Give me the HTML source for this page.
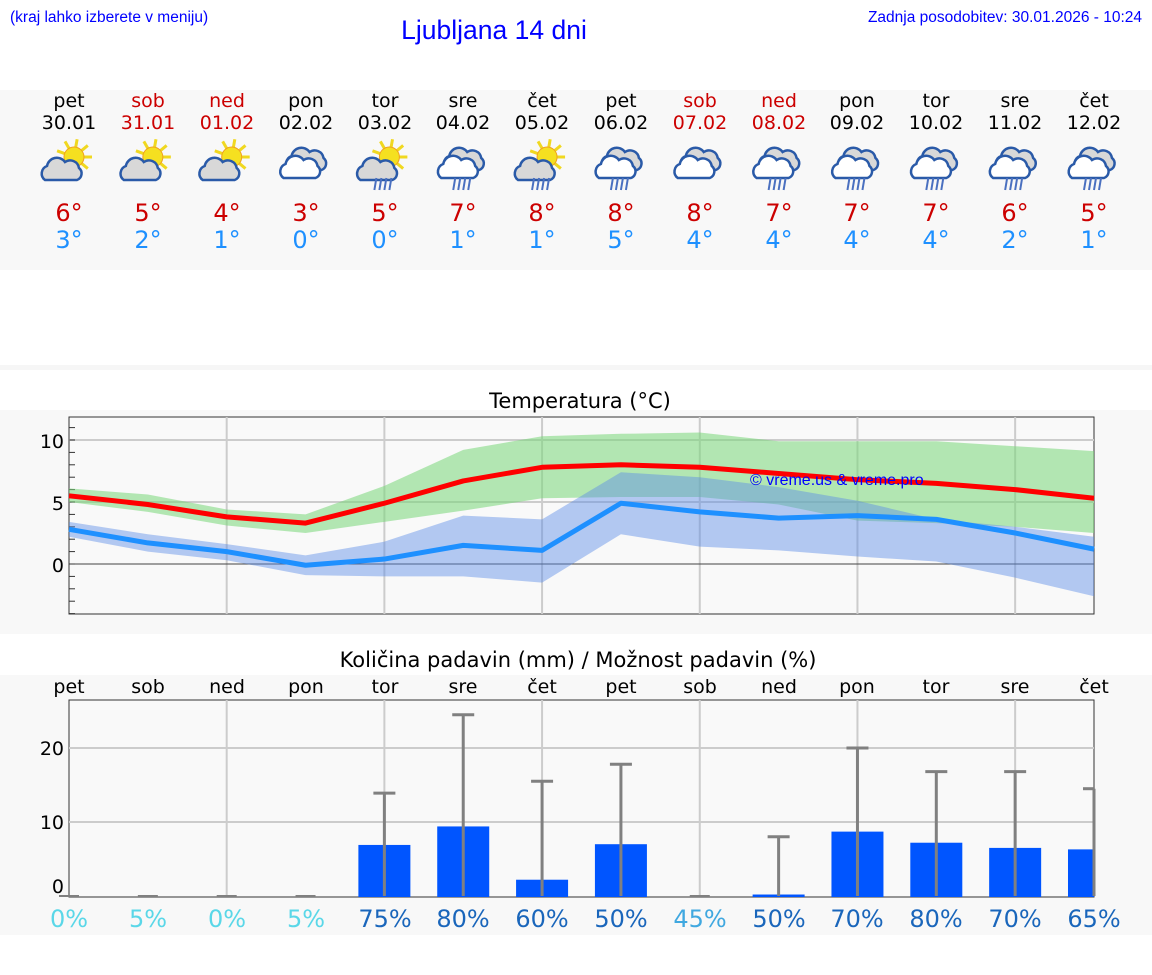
<!DOCTYPE html>
<html><head><meta charset="utf-8"><style>
body{margin:0;background:#fff;width:1152px;height:975px;overflow:hidden}
svg{display:block;font-family:"DejaVu Sans","Liberation Sans",sans-serif}
</style></head><body>
<svg id="s" width="1152" height="975" xmlns="http://www.w3.org/2000/svg">
<rect x="0" y="90" width="1152" height="180" fill="#f8f8f8"/>
<rect x="0" y="365" width="1152" height="5" fill="#f6f6f6"/>
<rect x="0" y="410" width="1152" height="224" fill="#f8f8f8"/>
<rect x="0" y="675" width="1152" height="260" fill="#f8f8f8"/>
<text x="10" y="22" font-size="15.5" fill="#0000ff" font-family="Liberation Sans,sans-serif">(kraj lahko izberete v meniju)</text>
<text x="1142" y="22" font-size="15.5" fill="#0000ff" text-anchor="end" font-family="Liberation Sans,sans-serif">Zadnja posodobitev: 30.01.2026 - 10:24</text>
<text x="494" y="39" font-size="26.5" fill="#0000ff" text-anchor="middle" font-family="Liberation Sans,sans-serif">Ljubljana 14 dni</text>
<g font-size="19" text-anchor="middle">
<text x="69" y="107">pet</text><text x="148" y="107" fill="#cc0000">sob</text><text x="227" y="107" fill="#cc0000">ned</text><text x="306" y="107">pon</text><text x="385" y="107">tor</text><text x="463" y="107">sre</text><text x="542" y="107">čet</text><text x="621" y="107">pet</text><text x="700" y="107" fill="#cc0000">sob</text><text x="779" y="107" fill="#cc0000">ned</text><text x="857" y="107">pon</text><text x="936" y="107">tor</text><text x="1015" y="107">sre</text><text x="1094" y="107">čet</text>
<text x="69" y="129">30.01</text><text x="148" y="129" fill="#cc0000">31.01</text><text x="227" y="129" fill="#cc0000">01.02</text><text x="306" y="129">02.02</text><text x="385" y="129">03.02</text><text x="463" y="129">04.02</text><text x="542" y="129">05.02</text><text x="621" y="129">06.02</text><text x="700" y="129" fill="#cc0000">07.02</text><text x="779" y="129" fill="#cc0000">08.02</text><text x="857" y="129">09.02</text><text x="936" y="129">10.02</text><text x="1015" y="129">11.02</text><text x="1094" y="129">12.02</text>
</g>
<g font-size="24" text-anchor="middle" fill="#cc0000">
<text x="69" y="221">6°</text><text x="148" y="221">5°</text><text x="227" y="221">4°</text><text x="306" y="221">3°</text><text x="385" y="221">5°</text><text x="463" y="221">7°</text><text x="542" y="221">8°</text><text x="621" y="221">8°</text><text x="700" y="221">8°</text><text x="779" y="221">7°</text><text x="857" y="221">7°</text><text x="936" y="221">7°</text><text x="1015" y="221">6°</text><text x="1094" y="221">5°</text>
</g>
<g font-size="24" text-anchor="middle" fill="#1e90ff">
<text x="69" y="248">3°</text><text x="148" y="248">2°</text><text x="227" y="248">1°</text><text x="306" y="248">0°</text><text x="385" y="248">0°</text><text x="463" y="248">1°</text><text x="542" y="248">1°</text><text x="621" y="248">5°</text><text x="700" y="248">4°</text><text x="779" y="248">4°</text><text x="857" y="248">4°</text><text x="936" y="248">4°</text><text x="1015" y="248">2°</text><text x="1094" y="248">1°</text>
</g>
<g id="icons"></g>
<text x="580" y="408" font-size="21" text-anchor="middle">Temperatura (°C)</text>
<rect x="69" y="417" width="1025" height="197" fill="#f9f9f9" stroke="#333" stroke-width="1"/>
<g id="tg"></g>
<text x="750" y="485" font-size="16" fill="#0000ff" font-family="Liberation Sans,sans-serif">© vreme.us &amp; vreme.pro</text>
<g font-size="19" text-anchor="end"><text x="64" y="448">10</text><text x="64" y="510">5</text><text x="64" y="572">0</text></g>
<text x="578" y="667" font-size="21" text-anchor="middle">Količina padavin (mm) / Možnost padavin (%)</text>
<g font-size="19" text-anchor="middle">
<text x="69" y="693">pet</text><text x="148" y="693">sob</text><text x="227" y="693">ned</text><text x="306" y="693">pon</text><text x="385" y="693">tor</text><text x="463" y="693">sre</text><text x="542" y="693">čet</text><text x="621" y="693">pet</text><text x="700" y="693">sob</text><text x="779" y="693">ned</text><text x="857" y="693">pon</text><text x="936" y="693">tor</text><text x="1015" y="693">sre</text><text x="1094" y="693">čet</text>
</g>
<rect x="69" y="700" width="1025" height="197" fill="#f9f9f9" stroke="#333" stroke-width="1"/>
<g id="pg"></g>
<g font-size="19" text-anchor="end"><text x="64" y="755">20</text><text x="64" y="829">10</text><text x="64" y="893">0</text></g>
<g font-size="24" text-anchor="middle">
<text x="69" y="927" fill="#5ad7e8">0%</text><text x="148" y="927" fill="#5ad7e8">5%</text><text x="227" y="927" fill="#5ad7e8">0%</text><text x="306" y="927" fill="#5ad7e8">5%</text><text x="385" y="927" fill="#1a66bb">75%</text><text x="463" y="927" fill="#1a66bb">80%</text><text x="542" y="927" fill="#1a66bb">60%</text><text x="621" y="927" fill="#1a66bb">50%</text><text x="700" y="927" fill="#40a8e0">45%</text><text x="779" y="927" fill="#1a66bb">50%</text><text x="857" y="927" fill="#1a66bb">70%</text><text x="936" y="927" fill="#1a66bb">80%</text><text x="1015" y="927" fill="#1a66bb">70%</text><text x="1094" y="927" fill="#1a66bb">65%</text>
</g>
</svg>
<script>
var NS="http://www.w3.org/2000/svg";
function X(i){return 69+i*78.846}
function el(p,t,a){var e=document.createElementNS(NS,t);for(var k in a)e.setAttribute(k,a[k]);p.appendChild(e);return e}
var tg=document.getElementById('tg');
function TY(v){return 564-v*12.4}
for(var i=2;i<14;i+=2)el(tg,'line',{x1:X(i),x2:X(i),y1:417,y2:614,stroke:'#ccc','stroke-width':2});
[440,502].forEach(function(y){el(tg,'line',{x1:69,x2:1094,y1:y,y2:y,stroke:'#ccc','stroke-width':2})});
el(tg,'line',{x1:69,x2:1094,y1:564,y2:564,stroke:'#444','stroke-width':1});
for(var v=-4;v<=11;v++)el(tg,'line',{x1:69,x2:75,y1:TY(v),y2:TY(v),stroke:'#333','stroke-width':1});
function band(up,lo,col){var pts=[];up.forEach(function(v,i){pts.push(X(i)+','+TY(v))});for(var i=lo.length-1;i>=0;i--)pts.push(X(i)+','+TY(lo[i]));el(tg,'polygon',{points:pts.join(' '),fill:col})}
function line(a,col){el(tg,'polyline',{points:a.map(function(v,i){return X(i)+','+TY(v)}).join(' '),fill:'none',stroke:col,'stroke-width':5,'stroke-linejoin':'round'})}
band([6.1,5.6,4.4,4.0,6.3,9.2,10.3,10.5,10.6,9.9,9.9,9.9,9.5,9.1],[5.0,4.2,3.1,2.5,3.4,4.3,5.3,5.4,5.4,4.8,3.5,3.3,3.0,2.5],'rgba(120,215,120,0.55)');
band([3.4,2.4,1.6,0.7,1.8,3.9,3.6,7.4,7.0,6.2,5.1,3.6,3.0,2.2],[2.2,1.0,0.3,-0.9,-1.0,-1.0,-1.5,2.4,1.4,1.1,0.6,0.2,-1.1,-2.6],'rgba(90,140,230,0.45)');
line([5.5,4.8,3.8,3.3,4.9,6.7,7.8,8.0,7.8,7.3,6.8,6.5,6.0,5.3],'#ff0000');
line([2.8,1.7,1.0,-0.1,0.4,1.5,1.1,4.9,4.2,3.7,3.9,3.6,2.5,1.2],'#1e90ff');
var pg=document.getElementById('pg');
function PY(v){return 896-v*7.4}
for(var i=2;i<14;i+=2)el(pg,'line',{x1:X(i),x2:X(i),y1:700,y2:897,stroke:'#ccc','stroke-width':2});
[748,822].forEach(function(y){el(pg,'line',{x1:69,x2:1094,y1:y,y2:y,stroke:'#ccc','stroke-width':2})});
var b=[0,0,0,0,6.9,9.4,2.2,7.0,0,0.2,8.7,7.2,6.5,6.3],e=[0,0,0,0,13.9,24.5,15.5,17.8,0,8,20,16.8,16.8,14.5];
for(var i=0;i<14;i++){var x=X(i);
 if(b[i]>0)el(pg,'rect',{x:x-26,y:PY(b[i]),width:i==13?26:52,height:896-PY(b[i])+1,fill:'#0055ff'});
 if(e[i]>0){el(pg,'line',{x1:x,x2:x,y1:PY(e[i]),y2:896,stroke:'#808080','stroke-width':3});el(pg,'line',{x1:x-11,x2:Math.min(x+11,1094),y1:PY(e[i]),y2:PY(e[i]),stroke:'#808080','stroke-width':3})}
 else el(pg,'line',{x1:x-10,x2:x+10,y1:896,y2:896,stroke:'#808080','stroke-width':2});
}
var ic=document.getElementById('icons');
var types=['sc','sc','sc','c','sr','cr','sr','cr','c','cr','cr','cr','cr','cr'];
function cloud(g,x,y,fill){el(g,'path',{d:'M'+(x-20)+','+(y+10)+' a8,8 0 0,1 2,-14 a10,10 0 0,1 18,-4 a9,9 0 0,1 14,6 a7,7 0 0,1 -2,12 z',fill:fill,stroke:'#2a5aa8','stroke-width':2.5})}
function sun(g,x,y){for(var a=0;a<360;a+=40){var r=a*Math.PI/180;el(g,'line',{x1:x+Math.cos(r)*10,y1:y+Math.sin(r)*10,x2:x+Math.cos(r)*18,y2:y+Math.sin(r)*18,stroke:'#f0d820','stroke-width':3})}el(g,'circle',{cx:x,cy:y,r:10,fill:'#f5e020',stroke:'#f0a020','stroke-width':1})}
types.forEach(function(t,i){var x=X(i),g=el(ic,'g',{});
 if(t[0]=='s'){sun(g,x+5,157);cloud(g,x-4,170,'#d8d8d8')}
 else{cloud(g,x+4,160,'#d8d8d8');cloud(g,x-2,168,'#fff')}
 if(t[1]=='r'||t=='cr'){for(var k=0;k<4;k++)el(g,'line',{x1:x-8+k*5,y1:178,x2:x-10+k*5,y2:190,stroke:'#4a70c0','stroke-width':2})}
});
</script>
</body></html>
